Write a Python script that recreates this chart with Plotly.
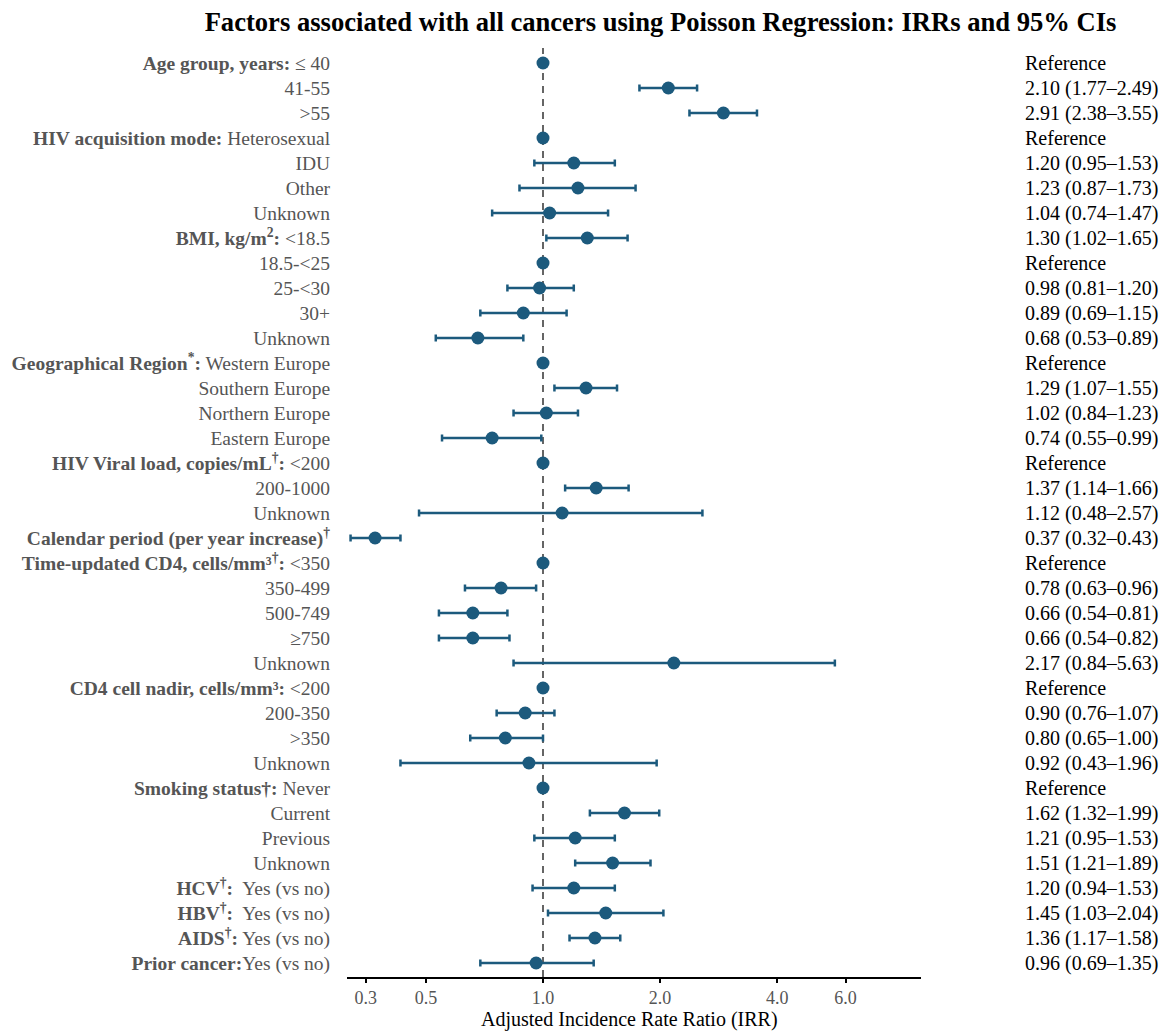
import plotly.graph_objects as go

labels = [
    "<b>Age group, years:</b> ≤ 40",
    "41-55",
    "&gt;55",
    "<b>HIV acquisition mode:</b> Heterosexual",
    "IDU",
    "Other",
    "Unknown",
    "<b>BMI, kg/m<sup>2</sup>:</b> &lt;18.5",
    "18.5-&lt;25",
    "25-&lt;30",
    "30+",
    "Unknown",
    "<b>Geographical Region<sup>*</sup>:</b> Western Europe",
    "Southern Europe",
    "Northern Europe",
    "Eastern Europe",
    "<b>HIV Viral load, copies/mL<sup>†</sup>:</b> &lt;200",
    "200-1000",
    "Unknown",
    "<b>Calendar period (per year increase)<sup>†</sup></b>",
    "<b>Time-updated CD4, cells/mm³<sup>†</sup>:</b> &lt;350",
    "350-499",
    "500-749",
    "≥750",
    "Unknown",
    "<b>CD4 cell nadir, cells/mm³:</b> &lt;200",
    "200-350",
    "&gt;350",
    "Unknown",
    "<b>Smoking status†:</b> Never",
    "Current",
    "Previous",
    "Unknown",
    "<b>HCV<sup>†</sup>:</b>\u00a0 Yes (vs no)",
    "<b>HBV<sup>†</sup>:</b>\u00a0 Yes (vs no)",
    "<b>AIDS<sup>†</sup>:</b> Yes (vs no)",
    "<b>Prior cancer:</b>Yes (vs no)",
]

irr = [1.00, 2.10, 2.91, 1.00, 1.20, 1.23, 1.04, 1.30, 1.00, 0.98, 0.89, 0.68,
       1.00, 1.29, 1.02, 0.74, 1.00, 1.37, 1.12, 0.37, 1.00, 0.78, 0.66, 0.66,
       2.17, 1.00, 0.90, 0.80, 0.92, 1.00, 1.62, 1.21, 1.51, 1.20, 1.45, 1.36, 0.96]
ci_low = [None, 1.77, 2.38, None, 0.95, 0.87, 0.74, 1.02, None, 0.81, 0.69, 0.53,
          None, 1.07, 0.84, 0.55, None, 1.14, 0.48, 0.32, None, 0.63, 0.54, 0.54,
          0.84, None, 0.76, 0.65, 0.43, None, 1.32, 0.95, 1.21, 0.94, 1.03, 1.17, 0.69]
ci_high = [None, 2.49, 3.55, None, 1.53, 1.73, 1.47, 1.65, None, 1.20, 1.15, 0.89,
           None, 1.55, 1.23, 0.99, None, 1.66, 2.57, 0.43, None, 0.96, 0.81, 0.82,
           5.63, None, 1.07, 1.00, 1.96, None, 1.99, 1.53, 1.89, 1.53, 2.04, 1.58, 1.35]

tick_vals = [0.35, 0.5, 1.0, 2.0, 4.0, 6.0]
tick_text = ["0.3", "0.5", "1.0", "2.0", "4.0", "6.0"]
x_title = "Adjusted Incidence Rate Ratio (IRR)"

rows = list(range(len(labels)))
err_plus = [(h - v) if h is not None else 0 for v, h in zip(irr, ci_high)]
err_minus = [(v - l) if l is not None else 0 for v, l in zip(irr, ci_low)]
right_text = ["Reference" if l is None else f"{v:.2f} ({l:.2f}–{h:.2f})"
              for v, l, h in zip(irr, ci_low, ci_high)]

FONT = "Liberation Serif, Times New Roman, serif"
COL = "#1c5a7d"
Y_TOP, Y_BOT = -0.6, 36.56

fig = go.Figure()
fig.add_trace(go.Scatter(
    x=[1, 1], y=[Y_BOT, Y_TOP], mode="lines",
    line=dict(color="#555555", width=1.8, dash="7px,6px"),
    hoverinfo="skip", showlegend=False))
fig.add_trace(go.Scatter(
    x=irr, y=rows, mode="markers",
    marker=dict(size=13, color=COL),
    error_x=dict(type="data", symmetric=False, array=err_plus, arrayminus=err_minus,
                 color=COL, thickness=2.5, width=3.5),
    showlegend=False))

for r, t in zip(rows, right_text):
    fig.add_annotation(x=1.178, xref="paper", y=r, yref="y", text=t,
                       showarrow=False, xanchor="left", yanchor="middle",
                       font=dict(family=FONT, size=20, color="black"))

fig.add_annotation(x=0.493, xref="paper", y=-0.0595, yref="paper", text=x_title,
                   showarrow=False, xanchor="center", yanchor="bottom", borderpad=0,
                   font=dict(family=FONT, size=20, color="black"))

fig.update_layout(
    width=1165, height=1032,
    margin=dict(l=347, r=244, t=48, b=55),
    paper_bgcolor="white", plot_bgcolor="white",
    font=dict(family=FONT),
    title=dict(text="<b>Factors associated with all cancers using Poisson Regression: IRRs and 95% CIs</b>",
               x=0.567, xanchor="center", y=0.979, yanchor="middle",
               font=dict(family=FONT, size=26.6, color="black")),
)
fig.update_xaxes(type="log", range=[-0.504, 0.972], tickvals=tick_vals, ticktext=tick_text,
                 automargin=False,
                 showgrid=False, zeroline=False, showline=True, linecolor="black", linewidth=1.5,
                 ticks="outside", ticklen=4, tickwidth=1.5, tickcolor="black",
                 tickfont=dict(family=FONT, size=18, color="#555555"))
fig.update_yaxes(range=[Y_BOT, Y_TOP], tickvals=rows, ticktext=labels, automargin=False,
                 showgrid=False, zeroline=False, showline=False,
                 ticks="outside", ticklen=12, tickcolor="rgba(0,0,0,0)",
                 tickfont=dict(family=FONT, size=19.5, color="#555555"))

fig.write_html("out.html")
